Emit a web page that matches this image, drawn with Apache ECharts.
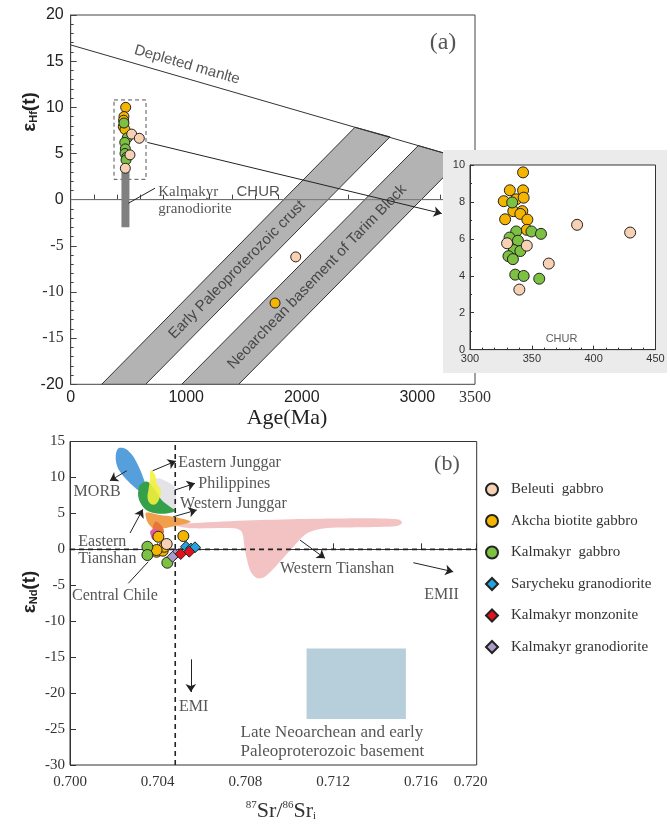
<!DOCTYPE html>
<html><head><meta charset="utf-8">
<script src="https://cdn.jsdelivr.net/npm/echarts@6/dist/echarts.min.js"></script>
<style>html,body{margin:0;padding:0;background:#fff}#c{width:670px;height:826px}</style>
</head><body><div id="c"></div>
<script>
// ================= DATA: panel (a) =================
const ageLabelValues = [0, 1000, 2000, 3000, 3500];
const depletedMantle = [[0, 16.76], [3500, 4.07]];
const churLine = [[0, 0], [3500, 0]];
const bandPaleo = [[268, -20], [649, -20], [2764, 6.8], [2461, 7.84]];
const bandNeo = [[961, -20], [1454, -20], [3389, 4.47], [3009, 5.85]];
const granoBar = [[474, 3.5], [474, -3.0]];
const dashBox = [[375, 2.2], [652, 10.8]];
const zoomArrow = [[663, 6.2], [3212, -1.5]];
const granoLeader = [[730, 1.24], [499, -0.39]];

const mainAkcha = [[476, 10.0], [461, 9.0], [458, 8.6], [455, 7.9], [470, 7.6], [1769, -11.2]];
const mainKalm = [[461, 8.3], [490, 6.7], [468, 6.2], [473, 5.5], [470, 5.0], [485, 4.6], [479, 4.3]];
const mainBel = [[528, 7.1], [594, 6.65], [513, 4.85], [473, 3.4], [1948, -6.2]];

// inset
const insetAkcha = [[342.9, 9.6], [332.2, 8.63], [342.9, 8.63], [327.3, 8.04], [337.4, 8.14], [343.4, 8.23],
  [335, 7.5], [342.3, 7.5], [340.7, 7.35], [328.4, 7.06], [346.4, 7.04], [345.9, 6.49]];
const insetKalm = [[334.1, 7.97], [337.4, 6.4], [332, 6.07], [338.8, 5.9], [349.7, 6.4], [357.4, 6.27],
  [335.5, 5.39], [340.7, 5.34], [331.1, 5.06], [334.7, 4.9], [336.6, 4.06], [343.4, 3.99], [356, 3.84]];
const insetBel = [[330, 5.76], [345.9, 5.63], [363.7, 4.66], [339.9, 3.25], [386.6, 6.76], [429.5, 6.34]];

// ================= DATA: panel (b) =================
const srTickLabels = ['0.700', '0.704', '0.708', '0.712', '0.716', '0.720'];
const bulkEarthSr = [[0.7048, -30], [0.7048, 15]];
const chondriteNd = [[0.700, 0], [0.71855, 0]];
const morbField = [[0.70223, 14.09], [0.70255, 13.95], [0.70287, 12.98], [0.70310, 11.72], [0.70328, 10.47],
  [0.70342, 9.22], [0.70347, 8.39], [0.70333, 7.97], [0.70310, 8.25], [0.70283, 8.94], [0.70251, 9.92],
  [0.70223, 11.03], [0.70210, 12.14], [0.70210, 13.39]];
const philippinesField = [[0.70373, 9.64], [0.70410, 9.87], [0.70479, 8.62], [0.70479, 5.47], [0.70410, 6.86], [0.70380, 8.01]];
const eTianshanField = [[0.70319, 8.94], [0.70353, 9.40], [0.70388, 8.25], [0.70418, 6.86], [0.70456, 5.93], [0.70479, 5.37],
  [0.70441, 5.0], [0.70395, 5.0], [0.70353, 5.37], [0.70327, 6.16], [0.70312, 7.23], [0.70312, 8.25]];
const eJunggarField = [[0.70368, 11.03], [0.70388, 10.33], [0.70395, 9.18], [0.70414, 8.25], [0.70410, 7.32], [0.70392, 6.30],
  [0.70368, 6.30], [0.70354, 7.09], [0.70359, 8.48], [0.70365, 9.87]];
const wJunggarField = [[0.70347, 5.09], [0.70410, 4.77], [0.70471, 4.53], [0.70550, 3.84], [0.70479, 3.24], [0.70426, 2.92],
  [0.70380, 2.92], [0.70353, 3.84]];
const arcField = [[0.70388, 3.84], [0.70410, 3.52], [0.70429, 2.45], [0.70403, 1.75], [0.70377, 2.31]];
const chileField = [[0.70368, 2.59], [0.70395, 2.78], [0.70418, 1.99], [0.70410, 1.29], [0.70380, 1.29], [0.70368, 1.99]];
const wTianshanField = [[0.70487, 3.24], [0.70502, 3.52], [0.70593, 3.7], [0.70867, 4.07], [0.71150, 4.25], [0.71414, 4.3],
  [0.71500, 4.15], [0.71515, 3.7], [0.71490, 3.25], [0.71323, 3.06], [0.71155, 2.9], [0.71080, 2.2], [0.71019, 0.37],
  [0.70943, -2.2], [0.70889, -3.8], [0.70852, -4.0], [0.70821, -2.9], [0.70798, -0.1], [0.70783, 2.45], [0.70745, 2.92],
  [0.70562, 2.92]];
const basementField = [[0.71079, -23.6], [0.71532, -23.6], [0.71532, -13.8], [0.71079, -13.8]];

const botBel = [[0.70441, 0.74]];
const botAkcha = [[0.70403, 1.75], [0.70517, 1.85], [0.70395, -0.33], [0.70423, -0.19], [0.70430, 0.36], [0.70395, -0.1]];
const botKalm = [[0.70353, 0.36], [0.70353, -0.79], [0.70444, -1.86]];
const botSary = [[0.70529, 0.36], [0.70552, 0.1], [0.70570, 0.28]];
const botMonz = [[0.70505, -0.65], [0.70544, -0.33]];
const botGrano = [[0.70480, -0.7], [0.70468, -1.03]];

// ================= STYLE =================
const SANS = 'Liberation Sans', SERIF = 'Liberation Serif';
const C = { bel: '#f8d0b2', akcha: '#f4b400', kalm: '#7dc142', sary: '#22a2de', monz: '#e3111c', grano: '#a99cc9' };
const chart = echarts.init(document.getElementById('c'));

function poly(pts, gi, fill, o = {}) {
  return {
    type: 'custom', xAxisIndex: gi, yAxisIndex: gi, data: [pts[0]], silent: true, z: o.z || 2, clip: true,
    renderItem: (p, api) => ({
      type: 'polygon',
      shape: { points: pts.map(q => api.coord(q)), smooth: o.smooth || 0 },
      style: { fill: fill, stroke: o.stroke || null, lineWidth: o.lw || 0, opacity: o.opacity == null ? 1 : o.opacity }
    })
  };
}
function seg(pts, gi, color, o = {}) {
  return {
    type: 'line', xAxisIndex: gi, yAxisIndex: gi, data: pts, symbol: 'none', silent: true, z: o.z || 4,
    lineStyle: { color: color, width: o.w || 1, type: o.type || 'solid' }
  };
}
function pts(name, data, gi, color, symbol, size, z) {
  return {
    type: 'scatter', name: name, xAxisIndex: gi, yAxisIndex: gi, data: data, symbol: symbol, symbolSize: size,
    z: z || 5, itemStyle: { color: color, borderColor: '#222', borderWidth: 1, opacity: 1 }
  };
}
function arrows(gi, list, z) {
  return {
    type: 'line', xAxisIndex: gi, yAxisIndex: gi, data: [], z: z || 5, silent: true,
    markLine: {
      silent: true, symbol: ['none', 'arrow'], symbolSize: 8, animation: false,
      lineStyle: { color: '#222', width: 1, type: 'solid' }, label: { show: false },
      data: list.map(a => [{ coord: a.from, symbol: 'none' }, { coord: a.to, symbol: a.head === false ? 'none' : 'arrow' }])
    }
  };
}
function texts(gi, list, z) {
  return {
    type: 'scatter', xAxisIndex: gi, yAxisIndex: gi, symbolSize: 0, silent: true, z: z || 6,
    data: list.map(t => ({
      value: t.at,
      label: {
        show: true, formatter: t.t, position: t.pos || 'inside', distance: 0, rotate: t.rot || 0,
        fontFamily: t.ff || SERIF, fontSize: t.fs || 15, color: t.c || '#2a2a2a', lineHeight: t.lh || 17,
        align: t.align || (t.pos === 'right' ? 'left' : 'center'), verticalAlign: 'middle'
      }
    }))
  };
}

const negSerif = v => (v === -5 || v === -10 || v === -15) ? '{s|' + v + '}' : String(v);

const option = {
  animation: false,
  backgroundColor: '#fff',
  grid: [
    { left: 70.7, top: 15, width: 404.3, height: 369.3, show: true, borderColor: '#444', borderWidth: 1, backgroundColor: 'transparent' },
    { left: 470, top: 165, width: 185.5, height: 184.6, show: true, borderColor: '#333', borderWidth: 1, backgroundColor: '#fff', z: 11 },
    { left: 70, top: 441.5, width: 406.7, height: 323.5, show: true, borderColor: '#333', borderWidth: 1, backgroundColor: 'transparent' }
  ],
  xAxis: [
    {
      gridIndex: 0, type: 'value', min: 0, max: 3500, interval: 200,
      axisLine: { lineStyle: { color: '#444' } }, splitLine: { show: false },
      axisTick: { inside: true, length: 5, lineStyle: { color: '#444' } },
      axisLabel: {
        margin: 5, color: '#222', fontFamily: SANS, fontSize: 16, showMaxLabel: true,
        formatter: v => v === 3500 ? '{s|3500}' : (ageLabelValues.indexOf(v) >= 0 ? String(v) : ''),
        rich: { s: { fontFamily: SERIF, fontSize: 16, color: '#333' } }
      }
    },
    {
      gridIndex: 1, type: 'value', min: 300, max: 450, interval: 50, z: 12,
      axisLine: { lineStyle: { color: '#333' } }, splitLine: { show: false },
      axisTick: { inside: true, length: 4, lineStyle: { color: '#333' } },
      minorTick: { show: true, splitNumber: 5, length: 2, lineStyle: { color: '#333' } },
      axisLabel: { margin: 4, color: '#333', fontFamily: SANS, fontSize: 11 }
    },
    {
      gridIndex: 2, type: 'value', min: 0.700, max: 0.71855, interval: 0.004,
      axisLine: { lineStyle: { color: '#333' } }, splitLine: { show: false },
      axisTick: { inside: true, length: 6, lineStyle: { color: '#333' } },
      axisLabel: {
        margin: 10, color: '#333', fontFamily: SERIF, fontSize: 15, showMaxLabel: true, showMinLabel: true,
        formatter: (v, i) => i === srTickLabels.length - 1 ? '{r|' + srTickLabels[i] + '}' : (srTickLabels[i] || ''),
        rich: { r: { fontFamily: SERIF, fontSize: 15, color: '#333', padding: [0, 12, 0, 0] } }
      }
    }
  ],
  yAxis: [
    {
      gridIndex: 0, type: 'value', min: -20, max: 20, interval: 5,
      axisLine: { lineStyle: { color: '#444' } }, splitLine: { show: false },
      axisTick: { inside: true, length: 6, lineStyle: { color: '#444' } },
      minorTick: { show: true, splitNumber: 5, length: 3, lineStyle: { color: '#444' } },
      axisLabel: { margin: 7, color: '#222', fontFamily: SANS, fontSize: 16, formatter: negSerif,
        rich: { s: { fontFamily: SERIF, fontSize: 16, color: '#333' } } }
    },
    {
      gridIndex: 1, type: 'value', min: 0, max: 10, interval: 2, z: 12,
      axisLine: { lineStyle: { color: '#333' } }, splitLine: { show: false },
      axisTick: { inside: true, length: 4, lineStyle: { color: '#333' } },
      minorTick: { show: true, splitNumber: 2, length: 2, lineStyle: { color: '#333' } },
      axisLabel: { margin: 5, color: '#333', fontFamily: SANS, fontSize: 11 }
    },
    {
      gridIndex: 2, type: 'value', min: -30, max: 15, interval: 5,
      axisLine: { lineStyle: { color: '#333' } }, splitLine: { show: false },
      axisTick: { inside: true, length: 6, lineStyle: { color: '#333' } },
      axisLabel: { margin: 5, color: '#333', fontFamily: SERIF, fontSize: 15 }
    }
  ],
  legend: {
    orient: 'vertical', left: 480, top: 477, itemWidth: 12, itemHeight: 12, itemGap: 16.5,
    textStyle: { fontFamily: SERIF, fontSize: 15, color: '#333', padding: [0, 0, 0, 8] },
    selectedMode: false,
    data: [
      { name: 'Beleuti  gabbro', icon: 'circle' },
      { name: 'Akcha biotite gabbro', icon: 'circle' },
      { name: 'Kalmakyr  gabbro', icon: 'circle' },
      { name: 'Sarycheku granodiorite', icon: 'diamond' },
      { name: 'Kalmakyr monzonite', icon: 'diamond' },
      { name: 'Kalmakyr granodiorite', icon: 'diamond' }
    ]
  },
  graphic: [
    { type: 'rect', z: 10, silent: true, shape: { x: 443, y: 150, width: 224, height: 223 }, style: { fill: '#ebebeb' } },
    { type: 'text', z: 20, silent: true, x: 30, y: 112, rotation: Math.PI / 2,
      style: { text: '{e|ε}{s|Hf}{e|(t)}', align: 'center', verticalAlign: 'middle',
        rich: { e: { fontFamily: SANS, fontSize: 19, fontWeight: 'bold', fill: '#222' },
                s: { fontFamily: SANS, fontSize: 11, fontWeight: 'bold', fill: '#222', verticalAlign: 'bottom', padding: [8, 0, 0, 0] } } } },
    { type: 'text', z: 20, silent: true, x: 287, y: 418,
      style: { text: 'Age(Ma)', align: 'center', verticalAlign: 'middle', fontFamily: SERIF, fontSize: 22, fill: '#222' } },
    { type: 'text', z: 20, silent: true, x: 30, y: 592, rotation: Math.PI / 2,
      style: { text: '{e|ε}{s|Nd}{e|(t)}', align: 'center', verticalAlign: 'middle',
        rich: { e: { fontFamily: SANS, fontSize: 19, fontWeight: 'bold', fill: '#222' },
                s: { fontFamily: SANS, fontSize: 11, fontWeight: 'bold', fill: '#222', verticalAlign: 'bottom', padding: [8, 0, 0, 0] } } } },
    { type: 'text', z: 20, silent: true, x: 281, y: 811,
      style: { text: '{p|87}{m|Sr/}{p|86}{m|Sr}{b|i}', align: 'center', verticalAlign: 'middle',
        rich: { m: { fontFamily: SERIF, fontSize: 22, fill: '#333' },
                p: { fontFamily: SERIF, fontSize: 11, fill: '#333', verticalAlign: 'top', padding: [0, 0, 10, 0] },
                b: { fontFamily: SERIF, fontSize: 11, fill: '#333', verticalAlign: 'bottom', padding: [10, 0, 0, 0] } } } }
  ],
  series: [
    // ---------- panel (a) ----------
    poly(bandPaleo, 0, '#b3b3b3', { stroke: '#333', lw: 1, z: 2 }),
    poly(bandNeo, 0, '#b3b3b3', { stroke: '#333', lw: 1, z: 2 }),
    seg(churLine, 0, '#777', { w: 1, z: 3 }),
    seg(depletedMantle, 0, '#333', { w: 1, z: 3 }),
    seg(granoBar, 0, '#808080', { w: 8, z: 3 }),
    {
      type: 'custom', xAxisIndex: 0, yAxisIndex: 0, data: [dashBox[0]], silent: true, z: 3,
      renderItem: (p, api) => {
        const a = api.coord(dashBox[0]), b = api.coord(dashBox[1]);
        return { type: 'rect', shape: { x: a[0], y: b[1], width: b[0] - a[0], height: a[1] - b[1] },
          style: { fill: null, stroke: '#555', lineWidth: 1, lineDash: [4, 3] } };
      }
    },
    arrows(0, [{ from: zoomArrow[0], to: zoomArrow[1] }, { from: granoLeader[0], to: granoLeader[1], head: false }], 4),
    pts('Akcha biotite gabbro', mainAkcha, 0, C.akcha, 'circle', 10),
    pts('Kalmakyr  gabbro', mainKalm, 0, C.kalm, 'circle', 10),
    pts('Beleuti  gabbro', mainBel, 0, C.bel, 'circle', 10),
    texts(0, [
      { t: '(a)', at: [3223, 16.98], fs: 24 },
      { t: 'Depleted manlte', at: [1007, 14.6], rot: -16, ff: SANS, fs: 15 },
      { t: 'CHUR', at: [1623, 0.8], ff: SANS, fs: 15 },
      { t: 'Kalmakyr\ngranodiorite', at: [758, -0.14], pos: 'right', fs: 15, lh: 17 },
      { t: 'Early Paleoproterozoic crust', at: [1440, -7.6], rot: 45.5, ff: SANS, fs: 15 },
      { t: 'Neoarchean basement of Tarim Block', at: [2133, -8.37], rot: 46, ff: SANS, fs: 15 }
    ], 6),
    // ---------- inset ----------
    pts('Akcha biotite gabbro', insetAkcha, 1, C.akcha, 'circle', 11, 13),
    pts('Kalmakyr  gabbro', insetKalm, 1, C.kalm, 'circle', 11, 14),
    pts('Beleuti  gabbro', insetBel, 1, C.bel, 'circle', 11, 15),
    texts(1, [{ t: 'CHUR', at: [374, 0.55], ff: SANS, fs: 11, c: '#333' }], 16),
    // ---------- panel (b) ----------
    poly(wTianshanField, 2, '#f3c3c3', { smooth: 0.3, z: 2 }),
    poly(basementField, 2, '#b7cedb', { z: 2 }),
    poly(morbField, 2, '#55a0dc', { smooth: 0.3, z: 2 }),
    poly(philippinesField, 2, '#e4e4e8', { smooth: 0.2, z: 2 }),
    poly(eTianshanField, 2, '#35a04a', { smooth: 0.4, z: 2 }),
    poly(eJunggarField, 2, '#f5f03a', { smooth: 0.4, z: 2, opacity: 0.88 }),
    poly(wJunggarField, 2, '#f0a04c', { smooth: 0.3, z: 2 }),
    poly(arcField, 2, '#e8743c', { smooth: 0.4, z: 2 }),
    poly(chileField, 2, '#e25aa8', { smooth: 0.4, z: 2 }),
    seg(bulkEarthSr, 2, '#222', { w: 1.6, type: [5, 4], z: 3 }),
    seg(chondriteNd, 2, '#222', { w: 1.6, type: [5, 4], z: 3 }),
    arrows(2, [
      { from: [0.70259, 10.93], to: [0.70182, 9.54] },
      { from: [0.70377, 10.93], to: [0.70483, 12.28] },
      { from: [0.70479, 8.25], to: [0.70570, 9.18] },
      { from: [0.70471, 4.53], to: [0.70578, 5.47] },
      { from: [0.70274, 2.27], to: [0.70332, 5.56] },
      { from: [0.70266, -4.73], to: [0.70357, -1.72], head: false },
      { from: [0.71049, 1.29], to: [0.71163, -1.25] },
      { from: [0.71566, -1.86], to: [0.71748, -3.12] },
      { from: [0.70551, -15.3], to: [0.70551, -19.85] }
    ], 4),
    pts('Akcha biotite gabbro', botAkcha, 2, C.akcha, 'circle', 11, 5),
    pts('Kalmakyr  gabbro', botKalm, 2, C.kalm, 'circle', 11, 5),
    pts('Beleuti  gabbro', botBel, 2, C.bel, 'circle', 11, 5),
    pts('Kalmakyr granodiorite', botGrano, 2, C.grano, 'diamond', 11, 5),
    pts('Sarycheku granodiorite', botSary, 2, C.sary, 'diamond', 11, 5),
    pts('Kalmakyr monzonite', botMonz, 2, C.monz, 'diamond', 11, 5),
    texts(2, [
      { t: '(b)', at: [0.71719, 11.8], fs: 22 },
      { t: 'MORB', at: [0.70124, 8.0], fs: 16 },
      { t: 'Eastern Junggar', at: [0.70494, 12.1], pos: 'right', fs: 16 },
      { t: 'Philippines', at: [0.70585, 9.08], pos: 'right', fs: 16 },
      { t: 'Western Junggar', at: [0.70502, 6.3], pos: 'right', fs: 16 },
      { t: 'Eastern\nTianshan', at: [0.70038, -0.1], pos: 'right', fs: 16, lh: 17 },
      { t: 'Central Chile', at: [0.70009, -6.5], pos: 'right', fs: 16 },
      { t: 'Western Tianshan', at: [0.70958, -2.64], pos: 'right', fs: 16 },
      { t: 'EMI', at: [0.70497, -21.9], pos: 'right', fs: 16 },
      { t: 'EMII', at: [0.71695, -6.36], fs: 16 },
      { t: 'Late Neoarchean and early\nPaleoproterozoic basement', at: [0.70778, -26.86], pos: 'right', fs: 17, lh: 19 }
    ], 6)
  ]
};
chart.setOption(option);
</script></body></html>
